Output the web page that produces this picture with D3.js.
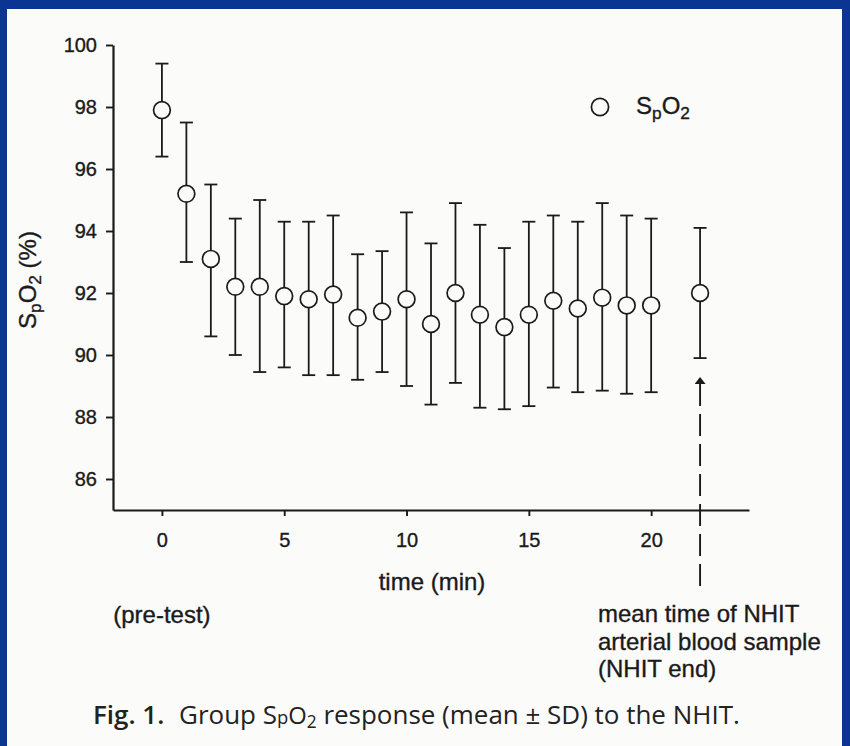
<!DOCTYPE html>
<html>
<head>
<meta charset="utf-8">
<script src="https://cdn.jsdelivr.net/npm/d3@7/dist/d3.min.js"></script>
<style>
  html, body { margin: 0; padding: 0; background: #0b3592; }
  svg { display: block; }
</style>
</head>
<body>
<svg id="chart" width="850" height="746"></svg>
<script>
// ---- data ----
const times = [0, 1, 2, 3, 4, 5, 6, 7, 8, 9, 10, 11, 12, 13, 14, 15, 16, 17, 18, 19, 20, 22];
const meanSpO2 = [97.9, 95.2, 93.1, 92.2, 92.2, 91.9, 91.8, 91.95, 91.2, 91.4, 91.8, 91.0, 92.0, 91.3, 90.9, 91.3, 91.75, 91.5, 91.85, 91.6, 91.6, 92.0];
const upperSD = [99.4, 97.5, 95.5, 94.4, 95.0, 94.3, 94.3, 94.5, 93.25, 93.35, 94.6, 93.6, 94.9, 94.2, 93.45, 94.3, 94.5, 94.3, 94.9, 94.5, 94.4, 94.1];
const lowerSD = [96.4, 93.0, 90.6, 90.0, 89.45, 89.6, 89.35, 89.35, 89.2, 89.45, 89.0, 88.4, 89.1, 88.3, 88.25, 88.35, 88.95, 88.8, 88.85, 88.75, 88.8, 89.9];
const xTicks = [0, 5, 10, 15, 20];
const yTicks = [86, 88, 90, 92, 94, 96, 98, 100];
const nhitEndTime = 22;

const ink = "#1a1a1a";
const paper = "#fbfbfa";
const svg = d3.select("#chart");

// page (scanned paper) inside blue frame
svg.append("rect").attr("x", 7).attr("y", 9).attr("width", 835).attr("height", 737).attr("fill", paper);

const x = d3.scaleLinear().domain([-2, 24]).range([113, 749]);
const y = d3.scaleLinear().domain([85, 100]).range([510, 45]);

const font = "'Liberation Sans', Arial, sans-serif";
const textStroke = 0.35;

// axes
const yAxis = d3.axisLeft(y).tickValues(yTicks).tickSize(7).tickSizeOuter(0).tickPadding(9);
const gy = svg.append("g").attr("transform", `translate(${x(-2)},0)`).call(yAxis);
const xAxis = d3.axisBottom(x).tickValues(xTicks).tickSize(6).tickSizeOuter(0).tickPadding(17);
const gx = svg.append("g").attr("transform", `translate(0,${y(85)})`).call(xAxis);
[gx, gy].forEach(g => {
  g.select(".domain").attr("stroke", ink).attr("stroke-width", 2.2);
  g.selectAll(".tick line").attr("stroke", ink).attr("stroke-width", 1.9);
  g.selectAll(".tick text").attr("fill", ink).attr("font-family", font).attr("font-size", 20)
    .attr("stroke", ink).attr("stroke-width", textStroke);
});

// dashed NHIT-end marker with arrow
svg.append("defs").append("marker")
  .attr("id", "arrow").attr("viewBox", "0 0 10 10").attr("refX", 10).attr("refY", 5)
  .attr("markerWidth", 7).attr("markerHeight", 11).attr("orient", "auto-start-reverse")
  .attr("markerUnits", "userSpaceOnUse").attr("preserveAspectRatio", "none")
  .append("path").attr("d", "M0,0 L10,5 L0,10 Z").attr("fill", ink);
svg.append("line")
  .attr("x1", x(nhitEndTime)).attr("x2", x(nhitEndTime))
  .attr("y1", 586).attr("y2", 377)
  .attr("stroke", ink).attr("stroke-width", 1.9)
  .attr("stroke-dasharray", "22,8")
  .attr("marker-end", "url(#arrow)");

// error bars + points
const data = times.map((t, i) => ({ t, m: meanSpO2[i], hi: upperSD[i], lo: lowerSD[i] }));
const g = svg.append("g").attr("stroke", ink).attr("stroke-width", 1.8);
const capW = 6.5;
g.selectAll("line.v").data(data).join("line").attr("class", "v")
  .attr("x1", d => x(d.t)).attr("x2", d => x(d.t))
  .attr("y1", d => y(d.hi)).attr("y2", d => y(d.lo));
g.selectAll("line.hi").data(data).join("line").attr("class", "hi")
  .attr("x1", d => x(d.t) - capW).attr("x2", d => x(d.t) + capW)
  .attr("y1", d => y(d.hi)).attr("y2", d => y(d.hi));
g.selectAll("line.lo").data(data).join("line").attr("class", "lo")
  .attr("x1", d => x(d.t) - capW).attr("x2", d => x(d.t) + capW)
  .attr("y1", d => y(d.lo)).attr("y2", d => y(d.lo));
g.selectAll("circle").data(data).join("circle")
  .attr("cx", d => x(d.t)).attr("cy", d => y(d.m)).attr("r", 8.4)
  .attr("fill", paper).attr("stroke-width", 1.7);

// helper for S_pO_2 text
function spo2(textSel, size) {
  textSel.append("tspan").text("S");
  textSel.append("tspan").attr("font-size", size * 0.72).attr("dy", size * 0.22).text("p");
  textSel.append("tspan").attr("dy", -size * 0.22).text("O");
  textSel.append("tspan").attr("font-size", size * 0.72).attr("dy", size * 0.22).text("2");
  return textSel;
}

// legend
svg.append("circle").attr("cx", 600).attr("cy", 107).attr("r", 8.6)
  .attr("fill", paper).attr("stroke", ink).attr("stroke-width", 1.7);
const leg = svg.append("text").attr("x", 636).attr("y", 114)
  .attr("font-family", font).attr("font-size", 24).attr("fill", ink)
  .attr("stroke", ink).attr("stroke-width", textStroke);
spo2(leg, 24);

// y label
const yl = svg.append("text").attr("transform", "translate(36,280) rotate(-90)")
  .attr("text-anchor", "middle").attr("font-family", font).attr("font-size", 24).attr("fill", ink)
  .attr("stroke", ink).attr("stroke-width", textStroke);
spo2(yl, 24);
yl.append("tspan").attr("dy", -24 * 0.22).text(" (%)");

// x label and annotations
const labelStyle = s => s.attr("font-family", font).attr("font-size", 24).attr("fill", ink)
  .attr("stroke", ink).attr("stroke-width", textStroke);
svg.append("text").attr("x", 432).attr("y", 590).attr("text-anchor", "middle")
  .call(labelStyle).text("time (min)");
svg.append("text").attr("x", x(0)).attr("y", 623).attr("text-anchor", "middle")
  .call(labelStyle).text("(pre-test)");
const noteLines = ["mean time of NHIT", "arterial blood sample", "(NHIT end)"];
svg.append("g").selectAll("text").data(noteLines).join("text")
  .attr("x", 598).attr("y", (d, i) => 622 + i * 27.5)
  .call(labelStyle).text(d => d);

// caption
const capFont = "'Open Sans', 'Noto Sans', sans-serif";
const cap = svg.append("text").attr("x", 93).attr("y", 724)
  .attr("font-family", capFont).attr("font-size", 24).attr("fill", "#222");
cap.append("tspan").attr("font-weight", 600).text("Fig. 1.");
cap.append("tspan").attr("dx", 8).text(" Group S");
cap.append("tspan").attr("font-size", 17).text("p");
cap.append("tspan").attr("font-size", 22).text("O");
cap.append("tspan").attr("font-size", 16).attr("dy", 4).text("2");
cap.append("tspan").attr("dy", -4).text(" response (mean \u00B1 SD) to the NHIT.");
// fit caption to its measured width in the reference
const w = cap.node().getComputedTextLength();
const target = 639;
const k = target / w;
cap.attr("font-size", 24 * k);
cap.selectAll("tspan").each(function() {
  const s = d3.select(this);
  const fs = s.attr("font-size");
  if (fs) s.attr("font-size", +fs * k);
});
</script>
</body>
</html>
